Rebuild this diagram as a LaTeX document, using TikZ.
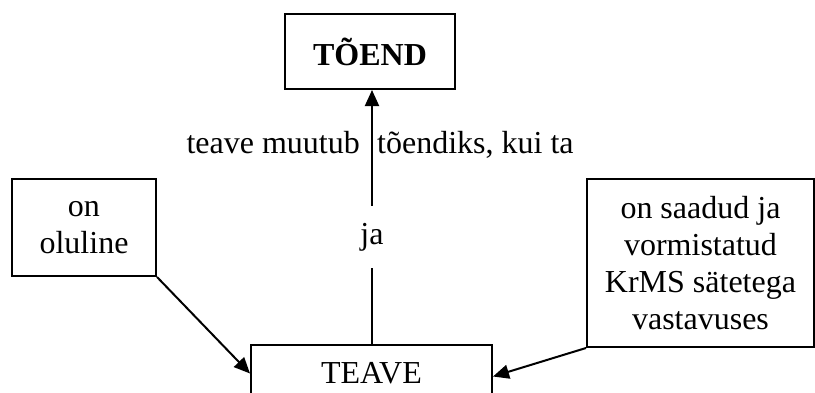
\documentclass[tikz,border=0pt]{standalone}
\usepackage{fontspec}
\setmainfont{Liberation Serif}
\usetikzlibrary{arrows.meta}
\begin{document}
\begin{tikzpicture}[x=1pt,y=-1pt,
  every node/.style={font=\fontsize{32}{37}\selectfont},
  box/.style={draw,line width=2pt,align=center,inner sep=0pt},
  link/.style={line width=2pt,-{Triangle[length=16pt,width=14pt]}}]
  \useasboundingbox (0,0) rectangle (815,392);
  \clip (0,0) rectangle (815,392);

  % boxes
  \node[box,minimum width=170,minimum height=75,font=\fontsize{32}{37}\selectfont\bfseries]
    (tend) at (370,51.5) {TÕEND};
  \node[box,minimum width=241,minimum height=57] (teave) at (371.5,373.5) {TEAVE};
  \node[box,minimum width=144,minimum height=97] (olul) at (84,227.5) {on\\oluline};
  \node[box,minimum width=227,minimum height=168] (saad) at (700.5,263)
    {on saadud ja\\vormistatud\\KrMS sätetega\\vastavuses};

  % connectors
  \draw[link] (teave.north -| 372,0) -- (tend.south -| 372,0)
    node[pos=0.42,fill=white,inner sep=0pt,minimum height=62,minimum width=30] (ja) {ja};
  \draw[link] (olul.south east) -- (teave.west);
  \draw[link] (saad.south west) -- ([yshift=-3pt]teave.east);

  % label beside the vertical arrow
  \node[anchor=base east,inner sep=0pt] (lbl1) at (360,153) {teave muutub};
  \node[anchor=base west,inner sep=0pt] (lbl2) at (377,153) {tõendiks, kui ta};
\end{tikzpicture}
\end{document}
